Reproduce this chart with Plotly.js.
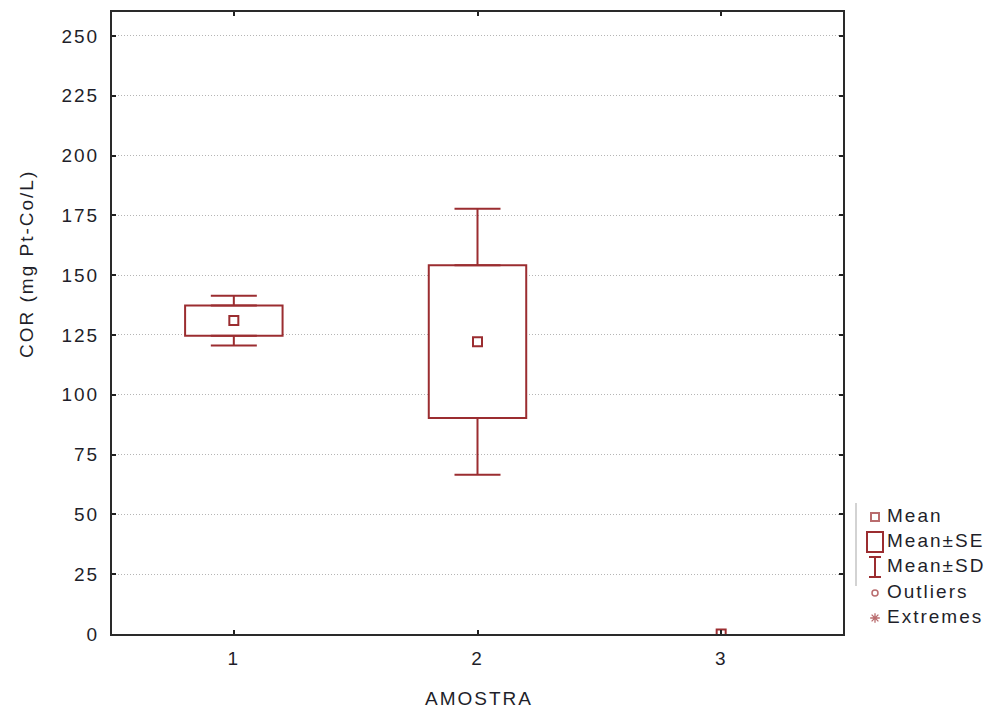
<!DOCTYPE html>
<html>
<head>
<meta charset="utf-8">
<script src="https://cdn.plot.ly/plotly-3.0.1.min.js"></script>
<style>
  html, body { margin: 0; padding: 0; background: #fff; }
  #chart { width: 992px; height: 711px; }
  /* wide letter spacing used by the statistics package's text */
  #chart svg text { letter-spacing: 2px; }
</style>
</head>
<body>
<div id="chart"></div>
<script>
// COR per sample: mean, standard error and standard deviation
const categories = ['1', '2', '3'];
const xPos = [1, 2, 3];
const means = [131.0, 122.2, 0];
const stdErr = [6.3, 31.9, 0];
const stdDev = [10.4, 55.6, 0];

const yTickVals = [0, 25, 50, 75, 100, 125, 150, 175, 200, 225, 250];
const legendLabels = ['Mean', 'Mean\u00b1SE', 'Mean\u00b1SD', 'Outliers', 'Extremes'];
const xTitle = 'AMOSTRA';
const yTitle = 'COR (mg Pt-Co/L)';

const RED = '#9b2d30';
const FONT = 'Liberation Sans, Arial, sans-serif';
const TXT = '#1f1f2a';
const FS = 19;

// samples with a non-degenerate spread get a box and whiskers
const spread = xPos.map((x, i) => i).filter(i => stdErr[i] > 0);
const sx = spread.map(i => xPos[i]);

const boxes = {
  type: 'bar',
  x: sx,
  base: spread.map(i => means[i] - stdErr[i]),
  y: spread.map(i => 2 * stdErr[i]),
  width: 0.4,
  marker: { color: '#ffffff', line: { color: RED, width: 2 } },
  hoverinfo: 'skip',
  showlegend: false
};

const whiskerStyle = { type: 'data', symmetric: false, color: RED, thickness: 2, width: 23 };

const upperWhisker = {
  type: 'scatter', mode: 'markers',
  x: sx,
  y: spread.map(i => means[i] + stdErr[i]),
  marker: { opacity: 0, size: 1 },
  error_y: Object.assign({}, whiskerStyle, {
    array: spread.map(i => stdDev[i] - stdErr[i]),
    arrayminus: spread.map(() => 0)
  }),
  hoverinfo: 'skip', showlegend: false
};

const lowerWhisker = {
  type: 'scatter', mode: 'markers',
  x: sx,
  y: spread.map(i => means[i] - stdErr[i]),
  marker: { opacity: 0, size: 1 },
  error_y: Object.assign({}, whiskerStyle, {
    array: spread.map(() => 0),
    arrayminus: spread.map(i => stdDev[i] - stdErr[i])
  }),
  hoverinfo: 'skip', showlegend: false
};

const meanPts = {
  type: 'scatter', mode: 'markers',
  x: xPos, y: means,
  marker: { symbol: 'square-open', size: 9, color: RED, line: { color: RED, width: 2 } },
  showlegend: false
};

// legend glyphs live on a pixel-scaled helper axis pair (x2/y2)
const legX = 875;
const legY = [517, 542, 567, 593, 618];

const legMarkers = {
  type: 'scatter', mode: 'markers',
  xaxis: 'x2', yaxis: 'y2',
  x: [legX, legX, legX],
  y: [legY[0], legY[3], legY[4]],
  marker: {
    symbol: ['square-open', 'circle-open', 'asterisk-open'],
    size: [8, 6, 8],
    color: RED,
    line: { color: RED, width: [2, 1.5, 1.3] }
  },
  cliponaxis: false,
  hoverinfo: 'skip', showlegend: false
};

const legText = {
  type: 'scatter', mode: 'text',
  xaxis: 'x2', yaxis: 'y2',
  x: legendLabels.map(() => 887),
  y: legY,
  text: legendLabels,
  textposition: 'middle right',
  textfont: { family: FONT, size: FS, color: TXT },
  cliponaxis: false,
  hoverinfo: 'skip', showlegend: false
};

const shapes = [
  // separator line left of the legend
  { type: 'line', xref: 'x2', yref: 'y2', x0: 856, x1: 856, y0: 503, y1: 586,
    line: { color: '#c4c4c4', width: 1.5 } },
  // Mean±SE glyph
  { type: 'rect', xref: 'x2', yref: 'y2', x0: legX - 8, x1: legX + 8, y0: legY[1] - 10, y1: legY[1] + 10,
    line: { color: RED, width: 2 } },
  // Mean±SD glyph
  { type: 'path', xref: 'x2', yref: 'y2',
    path: `M${legX - 6},${legY[2] - 10} H${legX + 6} M${legX},${legY[2] - 10} V${legY[2] + 10} M${legX - 6},${legY[2] + 10} H${legX + 6}`,
    line: { color: RED, width: 2 } }
];

const annotations = [
  {
    xref: 'paper', yref: 'paper', x: (26 - 112) / 880, y: (634 - 264) / 622, textangle: -90,
    xanchor: 'center', yanchor: 'middle', showarrow: false,
    text: yTitle, font: { family: FONT, size: FS, color: TXT }
  },
  {
    xref: 'paper', yref: 'paper', x: (479 - 112) / 880, y: (634 - 698) / 622,
    xanchor: 'center', yanchor: 'middle', showarrow: false,
    text: xTitle, font: { family: FONT, size: FS, color: TXT }
  }
];

const layout = {
  width: 992, height: 711,
  margin: { l: 112, r: 0, t: 12, b: 77 },
  paper_bgcolor: '#ffffff', plot_bgcolor: '#ffffff',
  showlegend: false,
  barmode: 'overlay',
  xaxis: {
    domain: [0, 731 / 880],
    range: [0.5, 3.5],
    tickvals: xPos, ticktext: categories,
    ticks: 'inside', ticklen: 4, tickwidth: 2, tickcolor: '#222',
    showline: true, linecolor: '#2a2a2a', linewidth: 2, mirror: 'ticks',
    showgrid: false, zeroline: false,
    ticklabelstandoff: 6,
    tickfont: { family: FONT, size: FS, color: TXT },
    fixedrange: true
  },
  yaxis: {
    range: [0, 260],
    tickvals: yTickVals,
    ticks: 'inside', ticklen: 4, tickwidth: 2, tickcolor: '#222',
    showline: true, linecolor: '#2a2a2a', linewidth: 2, mirror: 'ticks',
    showgrid: true, gridcolor: '#b5b5b5', gridwidth: 1, griddash: '1px,2px',
    zeroline: false,
    ticklabelstandoff: 7,
    tickfont: { family: FONT, size: FS, color: TXT },
    fixedrange: true
  },
  xaxis2: { domain: [743 / 880, 1], range: [855, 992], visible: false, anchor: 'y2', fixedrange: true },
  yaxis2: { domain: [0, 1], range: [634, 12], visible: false, anchor: 'x2', fixedrange: true },
  shapes: shapes,
  annotations: annotations
};

Plotly.newPlot('chart', [boxes, upperWhisker, lowerWhisker, meanPts, legMarkers, legText], layout,
  { displayModeBar: false, staticPlot: true });
</script>
</body>
</html>
